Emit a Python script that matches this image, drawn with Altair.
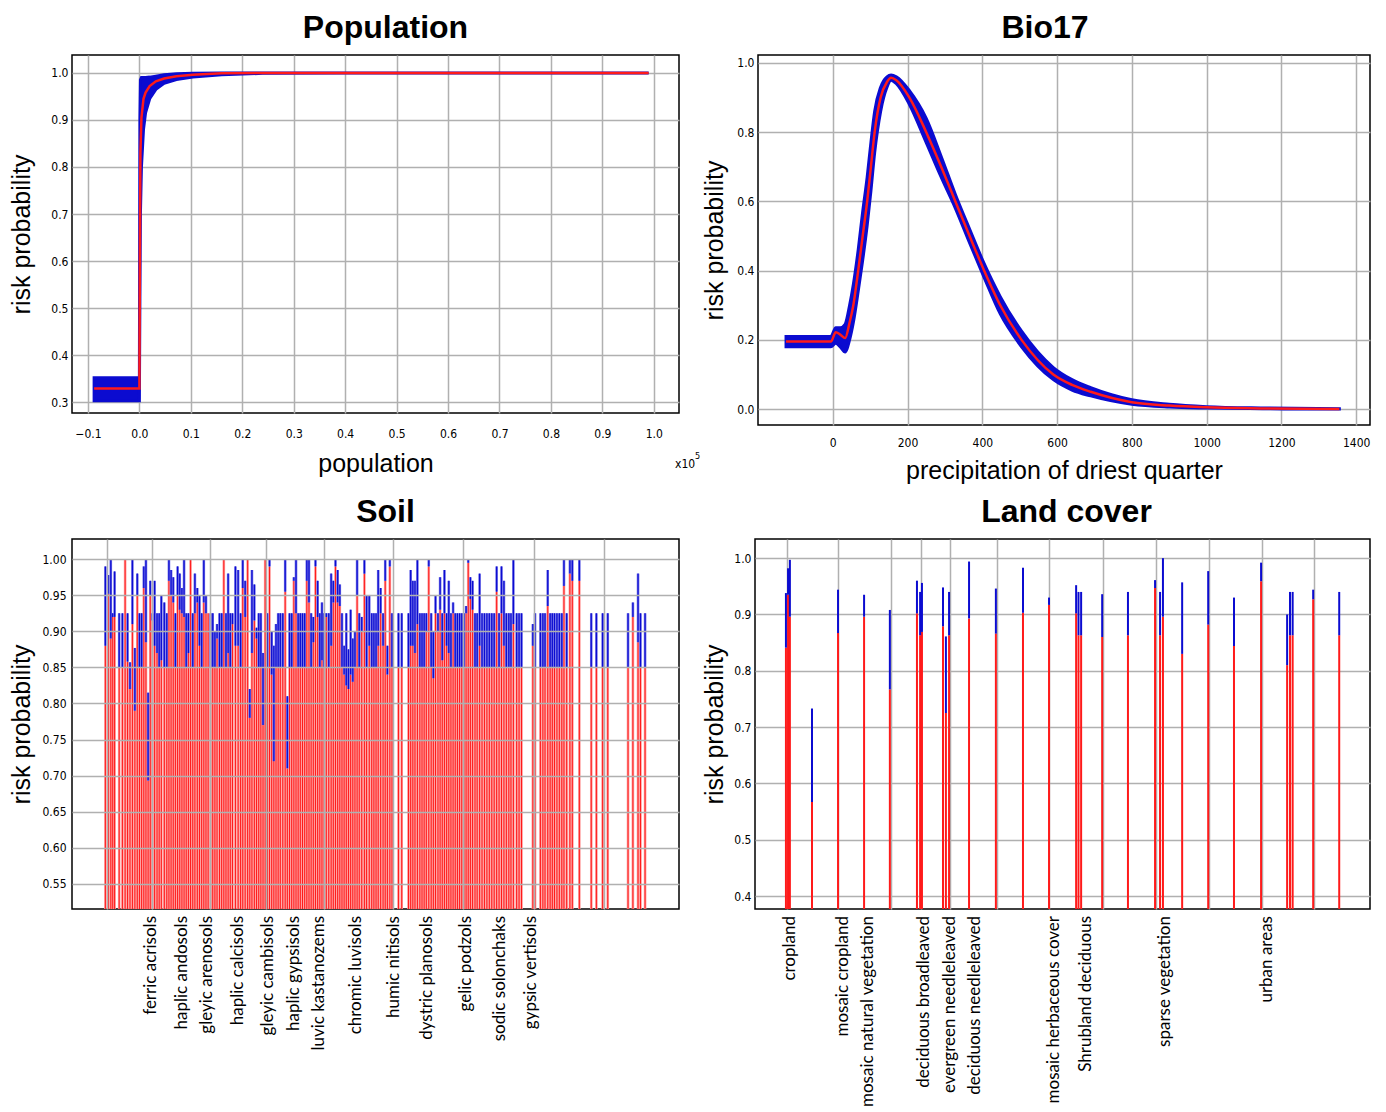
import altair as alt
import pandas as pd

BLUE = "#0b0bd0"
RED = "#ff1a1a"
PINK = "#ff9a9a"
LBLUE = "#6f6fe8"
GRID = "#b0b0b0"
TICKFONT = "Liberation Sans Narrow, DejaVu Sans Condensed, Liberation Sans"
TITLEFONT = "Liberation Sans"
LABFONT = "Lato"

# ---------------- Population ----------------
pop_x = [-0.088, 0.000, 0.001, 0.002, 0.004, 0.008, 0.012, 0.020, 0.032, 0.048,
         0.072, 0.104, 0.160, 0.240, 0.400, 0.700, 0.990]
pop_lo = [0.303, 0.303, 0.520, 0.700, 0.800, 0.880, 0.915, 0.945, 0.965, 0.978,
          0.986, 0.991, 0.996, 0.999, 1.000, 1.000, 1.000]
pop_hi = [0.352, 0.352, 0.900, 0.985, 0.990, 0.990, 0.990, 0.991, 0.993, 0.996,
          0.998, 0.999, 1.000, 1.000, 1.000, 1.000, 1.000]
pop_mid = [0.329, 0.329, 0.600, 0.830, 0.905, 0.945, 0.958, 0.972, 0.982, 0.988,
           0.993, 0.996, 0.999, 1.000, 1.000, 1.000, 1.000]
pop_xticks = [-0.1, 0.0, 0.1, 0.2, 0.3, 0.4, 0.5, 0.6, 0.7, 0.8, 0.9, 1.0]
pop_yticks = [0.3, 0.4, 0.5, 0.6, 0.7, 0.8, 0.9, 1.0]

# ---------------- Bio17 ----------------
bio_x = [-125, -5, 8, 20, 33, 45, 55, 68, 80, 92, 102, 112, 128, 145, 156, 170,
         205, 250, 290, 328, 366, 405, 448, 505, 590, 640, 690, 800, 900, 1000, 1150, 1355]
bio_mid = [0.195, 0.195, 0.222, 0.215, 0.205, 0.25, 0.30, 0.40, 0.50, 0.60, 0.70, 0.80,
           0.90, 0.945, 0.957, 0.95, 0.90, 0.80, 0.70, 0.60, 0.50, 0.40, 0.30, 0.20,
           0.10, 0.07, 0.05, 0.02, 0.01, 0.005, 0.002, 0.0]
bio_lo = [0.18, 0.18, 0.19, 0.18, 0.165, 0.20, 0.25, 0.34, 0.43, 0.53, 0.63, 0.74,
          0.86, 0.93, 0.95, 0.94, 0.88, 0.77, 0.67, 0.58, 0.48, 0.38, 0.275, 0.18,
          0.085, 0.055, 0.038, 0.014, 0.006, 0.003, 0.001, 0.0]
bio_hi = [0.21, 0.21, 0.235, 0.235, 0.245, 0.30, 0.36, 0.46, 0.57, 0.67, 0.77, 0.86,
          0.93, 0.96, 0.965, 0.96, 0.92, 0.84, 0.73, 0.62, 0.52, 0.42, 0.325, 0.225,
          0.12, 0.085, 0.062, 0.027, 0.014, 0.007, 0.003, 0.001]
bio_xticks = [0, 200, 400, 600, 800, 1000, 1200, 1400]
bio_yticks = [0.0, 0.1, 0.2, 0.3, 0.4, 0.5, 0.6, 0.7, 0.8, 0.9, 1.0]

# ---------------- Soil ----------------
soil_k = [8.7, 9.8, 10.7, 11.4, 12.1, 13.8, 15.0, 16.0, 16.9, 17.8, 18.7, 19.6, 20.5, 21.3, 22.1,
          22.9, 23.7, 24.5, 25.3, 26.1, 26.9, 27.8, 28.6, 29.4, 30.5, 31.4, 32.2, 33.0, 33.8, 34.6,
          35.4, 36.2, 37.0, 37.8, 38.6, 39.4, 40.2, 41.0, 41.8, 42.7, 43.5, 44.3, 45.1, 45.9, 46.7,
          47.6, 48.4, 49.2, 50.0, 50.9, 51.7, 52.5, 53.3, 54.1, 54.9, 55.7, 56.8,
          57.8, 58.7, 59.5, 60.4, 61.3, 62.1, 62.9, 63.8, 64.6, 65.4, 66.2, 67.0, 67.8, 68.6, 69.4,
          70.2, 71.0, 71.8, 72.6, 73.4, 74.3, 75.2, 76.0, 76.8, 77.6, 78.4, 79.2, 80.0, 80.8, 81.6,
          82.4, 83.2, 84.0, 84.8, 85.6, 86.4, 87.2, 88.0, 88.8, 89.6, 90.4, 91.3, 92.2, 93.0, 93.8,
          94.6, 95.4, 96.2, 97.0, 97.8, 98.6, 99.4, 100.2, 101.0, 101.8, 102.6, 103.5, 104.5, 105.3,
          106.3, 107.2, 108.0,
          108.8, 109.6, 110.5, 111.4, 112.2, 113.0, 113.9, 114.7, 117.1, 118.3, 120.8, 121.6, 122.4,
          123.2, 124.1, 125.0, 125.8, 126.6, 127.4, 128.3, 129.2, 130.0, 130.8, 131.7, 132.5, 133.3,
          134.1, 134.9, 135.7, 136.5, 137.3, 138.1, 138.9, 139.7, 140.5, 141.3, 142.1, 142.9, 143.7,
          144.5, 145.4, 146.2, 147.1, 148.0, 148.9, 149.8, 150.7, 151.6, 152.5, 153.4, 154.3, 155.2,
          156.1, 157.0, 157.9, 158.7,
          159.6, 160.8, 161.7, 162.6, 166.8, 167.6, 169.6, 170.5, 171.3, 172.3, 173.2, 174.0, 174.8,
          175.7, 176.6, 177.5, 178.3, 179.3, 180.5, 181.4, 184.0, 188.4, 190.3, 192.6, 194.5, 202.0,
          203.8, 205.7, 206.6, 208.3]
soil_lo = [0.88, 0.952, 0.89, 0.92, 0.92, 0.85, 0.85, 1.0, 0.858, 0.82, 0.91, 0.79, 0.95, 0.85, 0.85,
           0.96, 0.885, 0.693, 0.95, 0.915, 0.88, 0.87, 0.85, 0.86, 0.85, 0.85, 0.97, 0.95, 0.94, 0.85,
           0.95, 0.93, 0.925, 0.92, 0.85, 0.87, 1.0, 0.85, 0.925, 0.94, 0.88, 0.85, 0.94, 0.925, 0.925,
           0.85, 0.85, 0.85, 0.89, 0.85, 0.85, 1.0, 0.85, 0.87, 0.85, 0.91, 0.88,
           0.88, 0.85, 0.96, 0.92, 1.0, 0.78, 0.87, 0.915, 0.89, 0.85, 0.85, 0.77, 1.0, 0.85, 0.99,
           0.84, 0.72, 0.85, 0.85, 0.85, 0.85, 0.955, 0.71, 0.85, 0.85, 0.97, 0.925, 0.85, 0.85, 0.85,
           0.85, 0.97, 0.94, 0.85, 0.885, 0.99, 0.92, 0.85, 0.86, 0.85, 0.92, 0.85, 0.88, 0.94, 0.99,
           0.94, 0.935, 0.85, 0.84, 0.825, 0.82, 0.84, 0.83, 0.85, 0.95, 0.85, 0.90, 0.98, 0.85,
           0.88, 0.85, 0.85,
           0.85, 0.88, 0.925, 0.88, 0.97, 0.84, 0.99, 0.85, 0.85, 0.85, 0.85, 0.88, 0.88,
           0.87, 0.91, 0.85, 0.85, 0.85, 0.90, 0.99, 0.85, 0.835, 0.925, 0.90, 0.93, 0.86,
           0.925, 0.88, 0.87, 0.85, 0.925, 0.85, 0.85, 0.85, 0.85, 0.85, 0.925, 0.995, 0.945,
           0.93, 0.85, 0.85, 0.88, 0.85, 0.85, 0.85, 0.85, 0.85, 0.85, 0.955, 0.85, 0.925,
           0.88, 0.85, 0.85, 0.85,
           0.91, 0.85, 0.85, 0.85, 0.88, 0.85, 0.85, 0.85, 0.85, 0.935, 0.85, 0.85, 0.85,
           0.85, 0.85, 0.85, 0.963, 0.85, 0.98, 0.97, 0.97, 0.85, 0.85, 0.85, 0.85, 0.85,
           0.92, 0.885, 0.85, 0.85]
soil_hi = [0.99, 0.978, 1.0, 0.925, 0.983, 0.925, 0.925, 1.0, 0.925, 0.857, 1.0, 0.877, 0.98, 0.925, 0.925,
           0.99, 1.0, 0.815, 0.97, 0.925, 0.97, 0.925, 0.925, 0.95, 0.94, 0.925, 1.0, 0.985, 0.975, 0.925,
           0.99, 0.98, 0.96, 1.0, 0.925, 0.925, 1.0, 0.925, 0.98, 0.96, 0.95, 0.925, 1.0, 0.95, 0.925,
           0.925, 0.925, 0.90, 0.91, 0.925, 0.925, 1.0, 0.925, 0.98, 0.925, 0.925, 0.99,
           0.985, 0.925, 1.0, 0.97, 1.0, 0.82, 0.985, 0.965, 0.905, 0.925, 0.925, 0.87, 1.0, 0.925, 1.0,
           0.90, 0.88, 0.91, 0.925, 0.925, 0.925, 1.0, 0.81, 0.925, 0.925, 0.975, 1.0, 0.925, 0.925, 0.925,
           0.925, 1.0, 1.0, 0.925, 0.92, 1.0, 0.97, 0.925, 0.94, 0.925, 0.925, 0.925, 0.98, 0.97, 1.0,
           0.985, 0.965, 0.925, 0.88, 0.925, 0.875, 0.93, 0.89, 0.90, 1.0, 0.925, 0.92, 1.0, 0.95,
           0.95, 0.925, 0.925,
           0.925, 0.985, 0.96, 0.925, 1.0, 0.88, 1.0, 0.925, 0.925, 0.925, 0.925, 0.985, 0.97,
           0.97, 1.0, 0.925, 0.925, 0.925, 0.925, 1.0, 0.925, 0.90, 0.95, 0.925, 0.975, 0.925,
           0.985, 0.925, 0.97, 0.925, 0.94, 0.925, 0.925, 0.925, 0.925, 0.925, 0.935, 1.0, 0.975,
           0.97, 0.925, 0.925, 0.98, 0.925, 0.925, 0.925, 0.925, 0.925, 0.925, 0.99, 0.925, 0.99,
           0.97, 0.925, 0.925, 0.925,
           1.0, 0.925, 0.925, 0.925, 0.91, 0.925, 0.925, 0.925, 0.925, 0.985, 0.925, 0.925, 0.925,
           0.925, 0.925, 0.925, 1.0, 0.925, 1.0, 1.0, 1.0, 0.925, 0.925, 0.925, 0.925, 0.925,
           0.94, 0.98, 0.925, 0.925]
soil_grid = [9.45, 16.7, 25.8, 36.0, 47.3, 57.5, 68.0, 78.9, 89.5, 101.8, 114.9, 127.6,
             141.1, 153.8, 167.3, 180.0, 193.1, 206.2]
soil_names = ["ferric acrisols", "haplic andosols", "gleyic arenosols", "haplic calcisols",
              "gleyic cambisols", "haplic gypsisols", "luvic kastanozems", "chromic luvisols",
              "humic nitisols", "dystric planosols", "gelic podzols", "sodic solonchaks",
              "gypsic vertisols"]
soil_name_k = [25.5, 37.1, 46.2, 57.8, 68.7, 78.5, 87.6, 101.5, 115.6, 127.6, 142.2, 154.5, 166.2]
soil_yticks = [0.55, 0.60, 0.65, 0.70, 0.75, 0.80, 0.85, 0.90, 0.95, 1.00]

# ---------------- Land cover ----------------
lc_pos = [0.0, 0.08, 0.15, 0.99, 1.98, 2.97, 3.95, 4.98, 5.10, 5.17, 5.97, 6.08, 6.20, 6.96,
          7.98, 9.01, 10.0, 11.03, 11.12, 11.22, 12.02, 13.0, 14.03, 14.22, 14.33, 15.06,
          16.05, 17.03, 18.06, 19.05, 19.16, 19.26, 20.04, 21.03]
lc_lo = [0.841, 0.935, 0.896, 0.567, 0.867, 0.896, 0.767, 0.902, 0.863, 0.869, 0.879, 0.725,
         0.863, 0.893, 0.866, 0.903, 0.917, 0.902, 0.863, 0.863, 0.860, 0.863, 0.947, 0.863,
         0.896, 0.830, 0.882, 0.844, 0.959, 0.810, 0.863, 0.863, 0.927, 0.863]
lc_hi = [0.938, 0.982, 0.997, 0.733, 0.944, 0.935, 0.908, 0.960, 0.940, 0.956, 0.948, 0.861,
         0.940, 0.994, 0.946, 0.983, 0.930, 0.952, 0.940, 0.940, 0.936, 0.940, 0.961, 0.940,
         1.000, 0.957, 0.977, 0.930, 0.992, 0.900, 0.940, 0.940, 0.944, 0.940]
lc_grid = [0.04, 1.98, 3.99, 5.13, 6.24, 8.02, 10.0, 12.05, 14.07, 16.08, 18.1, 20.08]
lc_names = ["cropland", "mosaic cropland", "mosaic natural vegetation", "deciduous broadleaved",
            "evergreen needleleaved", "deciduous needleleaved", "mosaic herbaceous cover",
            "Shrubland deciduous", "sparse vegetation", "urban areas"]
lc_name_pos = [0.15, 2.17, 3.12, 5.25, 6.24, 7.19, 10.19, 11.4, 14.4, 18.3]
lc_yticks = [0.4, 0.5, 0.6, 0.7, 0.8, 0.9, 1.0]


def ttl(text, dx=0):
    return alt.TitleParams(text, fontSize=32, fontWeight="bold", font=TITLEFONT,
                           anchor="middle", offset=10, color="black", dx=dx)


def yax(values, fmt, ext, lpad=4, z=0):
    return alt.Axis(values=values, format=fmt, title="risk probability", grid=True,
                    ticks=False, domain=False, labelPadding=lpad, titlePadding=5,
                    minExtent=ext, maxExtent=ext, zindex=z)


# ---------- Panel A ----------
pop_df = pd.DataFrame({"x": pop_x, "lo": pop_lo, "hi": pop_hi, "mid": pop_mid})
WA, HA = 607, 358
pxs = alt.Scale(domain=[-0.131, 1.049], nice=False, zero=False)
pys = alt.Scale(domain=[0.277, 1.038], nice=False, zero=False)
xa = alt.X("x:Q", scale=pxs, axis=alt.Axis(values=pop_xticks, format=".1f", title="population",
                                           grid=True, ticks=False, domain=False,
                                           labelPadding=15, titlePadding=12))
band_a = alt.Chart(pop_df).mark_area(color=BLUE, stroke=BLUE, strokeWidth=3, opacity=1).encode(
    x=xa, y=alt.Y("lo:Q", scale=pys, axis=yax(pop_yticks, ".1f", 33)), y2="hi:Q")
line_a = alt.Chart(pop_df).mark_line(color=RED, strokeWidth=2.5).encode(x="x:Q", y="mid:Q")
x10 = alt.Chart(pd.DataFrame({"t": ["x10"]})).mark_text(
    align="left", baseline="middle", fontSize=12, font=TICKFONT, color="black").encode(
    x=alt.value(WA - 4), y=alt.value(HA + 51), text="t:N")
sup5 = alt.Chart(pd.DataFrame({"t": ["5"]})).mark_text(
    align="left", baseline="middle", fontSize=9, font=TICKFONT, color="black").encode(
    x=alt.value(WA + 16), y=alt.value(HA + 43), text="t:N")
panel_a = alt.layer(band_a, line_a, x10, sup5).properties(
    width=WA, height=HA, title=ttl("Population", 10))

# ---------- Panel B ----------
bio_df = pd.DataFrame({"x": bio_x, "lo": bio_lo, "hi": bio_hi, "mid": bio_mid})
WB, HB = 612, 370
bxs = alt.Scale(domain=[-200, 1437], nice=False, zero=False)
bys = alt.Scale(domain=[-0.046, 1.023], nice=False, zero=False)
xb = alt.X("x:Q", scale=bxs, axis=alt.Axis(values=bio_xticks, format="d",
                                           title="precipitation of driest quarter",
                                           grid=True, ticks=False, domain=False,
                                           labelPadding=12, titlePadding=10))
band_b = alt.Chart(bio_df).mark_area(color=BLUE, stroke=BLUE, strokeWidth=3, opacity=1,
                                     interpolate="monotone").encode(
    x=xb, y=alt.Y("lo:Q", scale=bys, axis=yax(bio_yticks, ".1f", 26)), y2="hi:Q")
line_b = alt.Chart(bio_df).mark_line(color=RED, strokeWidth=2.5, interpolate="monotone").encode(
    x="x:Q", y="mid:Q")
panel_b = alt.layer(band_b, line_b).properties(width=WB, height=HB, title=ttl("Bio17", -19))

# ---------- Panel C ----------
soil_df = pd.DataFrame({"k": soil_k, "lo": soil_lo, "hi": soil_hi})
WC, HC = 607, 370
SMIN = 0.515
sxs = alt.Scale(domain=[-1.8, 219], nice=False, zero=False)
sys_ = alt.Scale(domain=[SMIN, 1.028], nice=False, zero=False)
xc = alt.X("k:Q", scale=sxs, axis=alt.Axis(values=soil_grid, labels=False, ticks=False,
                                           domain=False, title=None, grid=True, zindex=1))
yc = alt.Y("lo:Q", scale=sys_, axis=yax(soil_yticks, ".2f", 33, lpad=6, z=1))
sbase = alt.Chart(soil_df)
red_bar = sbase.mark_bar(width=2.6, color=PINK, orient="vertical").encode(x=xc, y=yc, y2=alt.datum(SMIN))
red_rule = sbase.mark_rule(color=RED, strokeWidth=1).encode(x="k:Q", y="lo:Q", y2=alt.datum(SMIN))
blue_bar = sbase.mark_bar(width=2.6, color=LBLUE, orient="vertical").encode(x="k:Q", y="lo:Q", y2="hi:Q")
blue_rule = sbase.mark_rule(color=BLUE, strokeWidth=1.2).encode(x="k:Q", y="lo:Q", y2="hi:Q")
soil_lab = alt.Chart(pd.DataFrame({"k": soil_name_k, "name": soil_names})).mark_text(
    angle=270, align="right", baseline="middle", fontSize=17, font=LABFONT, color="black").encode(
    x="k:Q", y=alt.value(HC + 7), text="name:N")
panel_c = alt.layer(red_bar, red_rule, blue_bar, blue_rule, soil_lab).properties(
    width=WC, height=HC, title=ttl("Soil", 10))

# ---------- Panel D ----------
lc_df = pd.DataFrame({"p": lc_pos, "lo": lc_lo, "hi": lc_hi})
WD, HD = 615, 370
LMIN = 0.377
lxs = alt.Scale(domain=[-1.176, 22.2], nice=False, zero=False)
lys = alt.Scale(domain=[LMIN, 1.034], nice=False, zero=False)
xd = alt.X("p:Q", scale=lxs, axis=alt.Axis(values=lc_grid, labels=False, ticks=False,
                                           domain=False, title=None, grid=True, zindex=0))
yd = alt.Y("lo:Q", scale=lys, axis=yax(lc_yticks, ".1f", 23))
lbase = alt.Chart(lc_df)
lc_red = lbase.mark_rule(color=RED, strokeWidth=2).encode(x=xd, y=yd, y2=alt.datum(LMIN))
lc_blue = lbase.mark_rule(color=BLUE, strokeWidth=2).encode(x="p:Q", y="lo:Q", y2="hi:Q")
lc_lab = alt.Chart(pd.DataFrame({"p": lc_name_pos, "name": lc_names})).mark_text(
    angle=270, align="right", baseline="middle", fontSize=17, font=LABFONT, color="black").encode(
    x="p:Q", y=alt.value(HD + 7), text="name:N")
panel_d = alt.layer(lc_red, lc_blue, lc_lab).properties(width=WD, height=HD, title=ttl("Land cover", 4))

chart = alt.concat(panel_a, panel_b, panel_c, panel_d, columns=2, align="none",
                   spacing={"row": 11, "column": 0}).configure(
    background="white", padding={"top": 3, "left": 0, "right": 0, "bottom": 0}
).configure_view(
    stroke="black", strokeWidth=1.5
).configure_axis(
    gridColor=GRID, gridWidth=1.5, gridOpacity=1,
    labelFont=TICKFONT, labelFontSize=12, labelColor="black",
    titleFont=TITLEFONT, titleFontSize=25, titleFontWeight="normal", titleColor="black"
)

chart.save("out.html", embed_options={"renderer": "svg", "actions": False})
